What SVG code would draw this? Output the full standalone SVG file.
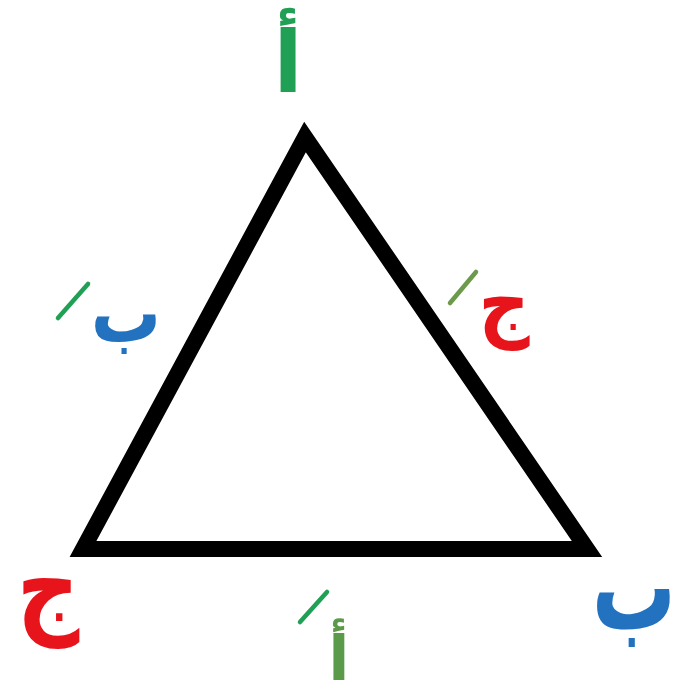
<svg xmlns="http://www.w3.org/2000/svg" width="673" height="687" viewBox="0 0 673 687">
<style>
.lbl{font-family:"DejaVu Sans",sans-serif;font-weight:bold;text-anchor:middle}
.g{fill:#1fa055}
.o{fill:#5a9a48}
.b{fill:#2272c0}
.r{fill:#e8141c}
.pr{stroke-width:4.5;stroke-linecap:round}
</style>
<rect width="673" height="687" fill="#ffffff"/>
<g id="triangle">
<polygon points="305,137 83,549 587,549" fill="none" stroke="#000000" stroke-width="16" stroke-linejoin="miter"/>
</g>
<g id="connectors"></g>
<g id="vertex-top"><text class="lbl g" x="288" y="92" font-size="85">أ</text></g>
<g id="vertex-left"><text class="lbl r" transform="translate(48,623) scale(1,1.22)" font-size="87">ج</text></g>
<g id="vertex-right"><text class="lbl b" transform="translate(634,629) scale(1,1.45)" font-size="84">ب</text></g>
<g id="side-left">
<text class="lbl b" transform="translate(126,342) scale(1,1.19)" font-size="70">ب</text>
<line class="pr" x1="58" y1="318" x2="88" y2="284" stroke="#1fa055"/>
</g>
<g id="side-right">
<text class="lbl r" transform="translate(504,331) scale(1,1.15)" font-size="71">ج</text>
<line class="pr" x1="450" y1="303" x2="476" y2="272" stroke="#6a9a4a"/>
</g>
<g id="side-bottom">
<text class="lbl o" x="339" y="680" font-size="62">أ</text>
<line class="pr" x1="300" y1="622" x2="327" y2="592" stroke="#1fa055"/>
</g>
</svg>
